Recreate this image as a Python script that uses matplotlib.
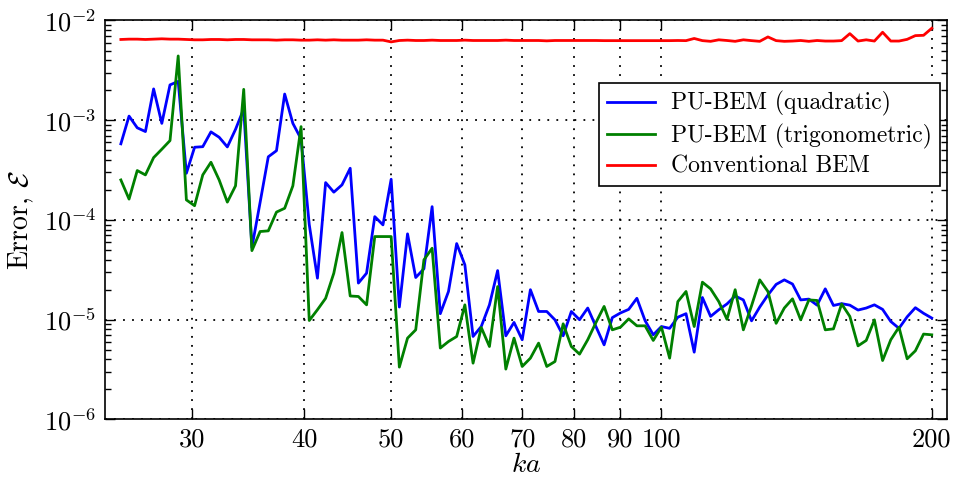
import numpy as np
import matplotlib
matplotlib.use("Agg")
import matplotlib.pyplot as plt
from matplotlib.ticker import NullLocator, FixedLocator, FixedFormatter

# Computer Modern look
plt.rcParams['font.family'] = 'serif'
plt.rcParams['font.serif'] = ['cmr10']
plt.rcParams['mathtext.fontset'] = 'cm'
plt.rcParams['axes.formatter.use_mathtext'] = True

# ka grid: 100 log-spaced samples from 25 to 200
ka = np.geomspace(25, 200, 100)

err_quad = [
    5.8e-4, 1.10e-3, 8.4e-4, 7.7e-4, 2.06e-3, 9.3e-4, 2.26e-3, 2.45e-3, 2.94e-4, 5.36e-4,
    5.43e-4, 7.64e-4, 6.75e-4, 5.40e-4, 8.1e-4, 1.3e-3, 5.3e-5, 1.5e-4, 4.3e-4, 4.95e-4,
    1.83e-3, 9.3e-4, 6.5e-4, 9.0e-5, 2.61e-5, 2.37e-4, 1.90e-4, 2.25e-4, 3.30e-4, 2.33e-5,
    2.93e-5, 1.08e-4, 8.93e-5, 2.56e-4, 1.34e-5, 7.26e-5, 2.65e-5, 3.24e-5, 1.36e-4, 1.15e-5,
    1.92e-5, 5.8e-5, 3.55e-5, 6.8e-6, 8.55e-6, 1.41e-5, 3.11e-5, 6.9e-6, 9.4e-6, 6.3e-6,
    2.0e-5, 1.21e-5, 1.21e-5, 9.97e-6, 6.9e-6, 1.21e-5, 1.0e-5, 1.31e-5, 8.55e-6, 5.6e-6,
    1.05e-5, 1.17e-5, 1.27e-5, 1.64e-5, 9.8e-6, 7.06e-6, 8.55e-6, 8.2e-6, 1.06e-5, 1.15e-5,
    4.73e-6, 1.67e-5, 1.08e-5, 1.26e-5, 1.44e-5, 1.73e-5, 1.58e-5, 9.75e-6, 1.34e-5, 1.77e-5,
    2.26e-5, 2.51e-5, 2.28e-5, 1.58e-5, 1.61e-5, 1.40e-5, 2.04e-5, 1.39e-5, 1.45e-5, 1.40e-5,
    1.25e-5, 1.31e-5, 1.41e-5, 1.27e-5, 9.6e-6, 8.2e-6, 1.07e-5, 1.32e-5, 1.16e-5, 1.04e-5,
]

err_trig = [
    2.52e-4, 1.62e-4, 3.13e-4, 2.83e-4, 4.22e-4, 5.12e-4, 6.25e-4, 4.41e-3, 1.59e-4, 1.39e-4,
    2.83e-4, 3.79e-4, 2.52e-4, 1.51e-4, 2.20e-4, 2.04e-3, 4.93e-5, 7.66e-5, 7.78e-5, 1.20e-4,
    1.31e-4, 2.20e-4, 8.63e-4, 9.82e-6, 1.26e-5, 1.64e-5, 2.93e-5, 7.48e-5, 1.73e-5, 1.71e-5,
    1.41e-5, 6.82e-5, 6.82e-5, 6.82e-5, 3.35e-6, 6.54e-6, 7.92e-6, 3.98e-5, 5.21e-5, 5.2e-6,
    6.05e-6, 6.79e-6, 1.41e-5, 3.67e-6, 8.36e-6, 5.39e-6, 2.15e-5, 3.2e-6, 6.54e-6, 3.4e-6,
    4.12e-6, 5.83e-6, 3.4e-6, 3.81e-6, 9.1e-6, 5.39e-6, 4.52e-6, 6.3e-6, 9.37e-6, 1.36e-5,
    7.92e-6, 8.42e-6, 1.02e-5, 8.69e-6, 8.69e-6, 6.2e-6, 8.42e-6, 4.12e-6, 1.52e-5, 1.92e-5,
    8.55e-6, 2.38e-5, 2.04e-5, 1.52e-5, 1.01e-5, 2.0e-5, 7.92e-6, 1.38e-5, 2.51e-5, 1.92e-5,
    9.2e-6, 1.31e-5, 1.62e-5, 9.97e-6, 1.58e-5, 1.56e-5, 7.92e-6, 8.1e-6, 1.44e-5, 1.08e-5,
    5.47e-6, 6.2e-6, 9.97e-6, 3.9e-6, 6.3e-6, 8.42e-6, 4.06e-6, 4.88e-6, 7.18e-6, 7.06e-6,
]

# conventional BEM, in units of 1e-3
err_conv_e3 = [
    6.45, 6.5, 6.5, 6.45, 6.5, 6.55, 6.5, 6.5, 6.45, 6.4,
    6.4, 6.45, 6.45, 6.4, 6.45, 6.45, 6.4, 6.4, 6.4, 6.35,
    6.4, 6.4, 6.35, 6.35, 6.4, 6.35, 6.4, 6.35, 6.35, 6.35,
    6.4, 6.35, 6.35, 6.1, 6.3, 6.35, 6.3, 6.3, 6.35, 6.3,
    6.3, 6.3, 6.35, 6.3, 6.3, 6.3, 6.3, 6.35, 6.3, 6.3,
    6.3, 6.3, 6.25, 6.3, 6.3, 6.3, 6.3, 6.3, 6.3, 6.28,
    6.28, 6.28, 6.28, 6.28, 6.28, 6.28, 6.28, 6.28, 6.3, 6.28,
    6.6, 6.28, 6.18, 6.4, 6.3, 6.18, 6.4, 6.28, 6.18, 6.84,
    6.28, 6.18, 6.22, 6.3, 6.18, 6.3, 6.22, 6.22, 6.28, 7.38,
    6.22, 6.4, 6.22, 7.62, 6.22, 6.22, 6.47, 7.05, 7.1, 8.35,
]
err_conv = np.array(err_conv_e3) * 1e-3

xtick_vals = [30, 40, 50, 60, 70, 80, 90, 100, 200]

fig = plt.figure(figsize=(9.54, 4.83), dpi=100)
ax = fig.add_axes([0.110, 0.1315, 0.8827, 0.8261])

ax.loglog(ka, err_quad, color='#0000ff', lw=2, label='PU-BEM (quadratic)')
ax.loglog(ka, err_trig, color='#008000', lw=2, label='PU-BEM (trigonometric)')
ax.loglog(ka, err_conv, color='#ff0000', lw=2, label='Conventional BEM')

ax.set_xlim(24, 208)
ax.set_ylim(1e-6, 1e-2)

ax.xaxis.set_major_locator(FixedLocator(xtick_vals))
ax.xaxis.set_major_formatter(FixedFormatter([str(v) for v in xtick_vals]))
ax.xaxis.set_minor_locator(NullLocator())

ax.grid(True, which='major', color='black', linestyle=(0, (1, 4)), linewidth=1.3)
ax.tick_params(which='both', direction='in', top=True, right=True, labelsize=19)
ax.tick_params(which='major', length=7, width=1, pad=6)
ax.tick_params(which='minor', length=4, width=1)
for s in ax.spines.values():
    s.set_linewidth(1.2)

ax.set_xlabel('$ka$', fontsize=20, labelpad=0)
ax.set_ylabel(r'Error, $\mathcal{E}$', fontsize=20, labelpad=6)

leg = ax.legend(loc='upper right', bbox_to_anchor=(0.992, 0.843), borderaxespad=0,
                fontsize=17, fancybox=False, framealpha=1, edgecolor='black',
                handlelength=2.0, borderpad=0.35, labelspacing=0.3, handletextpad=0.7)
leg.get_frame().set_linewidth(1.2)

fig.savefig('out.png', dpi=100)
